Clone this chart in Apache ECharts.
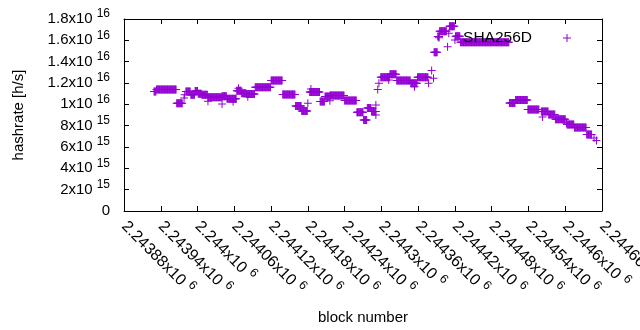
<!DOCTYPE html>
<html>
<head>
<meta charset="utf-8">
<script src="https://cdn.jsdelivr.net/npm/echarts@6/dist/echarts.min.js"></script>
<style>
  body { margin: 0; background: #fff; }
  #chart { width: 640px; height: 330px; }
</style>
</head>
<body>
<div id="chart"></div>
<script>
// runs of blocks sharing one hashrate estimate: [start, end) and value
const segStart = [2243929, 2243933, 2243966, 2243981, 2243989, 2243996, 2244001, 2244007, 2244017, 2244040,
                  2244048, 2244064, 2244072, 2244080, 2244094, 2244120, 2244139, 2244160, 2244170, 2244183,
                  2244200, 2244208, 2244216, 2244240, 2244260, 2244271, 2244277, 2244284, 2244299, 2244314,
                  2244325, 2244348, 2244359, 2244386, 2244392, 2244395, 2244411, 2244421, 2244429, 2244509,
                  2244519, 2244539, 2244561, 2244573, 2244584, 2244603, 2244615, 2244635]
const segEnd = [2243933, 2243966, 2243976, 2243989, 2243996, 2244001, 2244007, 2244017, 2244040, 2244048,
                2244064, 2244072, 2244080, 2244094, 2244120, 2244139, 2244160, 2244170, 2244180, 2244200,
                2244208, 2244216, 2244240, 2244260, 2244271, 2244277, 2244284, 2244292, 2244314, 2244325,
                2244348, 2244359, 2244377, 2244392, 2244395, 2244407, 2244420, 2244429, 2244509, 2244519,
                2244539, 2244558, 2244573, 2244584, 2244601, 2244615, 2244635, 2244644]
const segValue = [1.12e16, 1.14e16, 1.01e16, 1.12e16, 1.09e16, 1.125e16, 1.10e16, 1.09e16, 1.066e16, 1.075e16,
                  1.053e16, 1.128e16, 1.103e16, 1.097e16, 1.16e16, 1.223e16, 1.092e16, 0.984e16, 0.9375e16, 1.116e16,
                  1.027e16, 1.073e16, 1.083e16, 1.036e16, 0.925e16, 0.853e16, 0.966e16, 0.933e16, 1.253e16, 1.282e16,
                  1.223e16, 1.197e16, 1.253e16, 1.488e16, 1.636e16, 1.685e16, 1.732e16, 1.638e16, 1.582e16, 1.0125e16,
                  1.04e16, 0.952e16, 0.933e16, 0.905e16, 0.86e16, 0.811e16, 0.783e16, 0.717e16]

// single scattered blocks
const oddBlock = [2243978, 2243979, 2244017, 2244040, 2244058, 2244067, 2244082, 2244180, 2244185, 2244216,
                  2244291, 2244291, 2244294, 2244296, 2244312, 2244354, 2244377, 2244382, 2244385, 2244394,
                  2244408, 2244410, 2244420, 2244563, 2244602, 2244647, 2244651]
const oddValue = [1.06e16, 1.09e16, 1.03e16, 1.003e16, 1.025e16, 1.15e16, 1.07e16, 1.01e16, 1.144e16, 1.034e16,
                  0.994e16, 0.9e16, 1.14e16, 1.197e16, 1.228e16, 1.165e16, 1.197e16, 1.317e16, 1.244e16, 1.625e16,
                  1.54e16, 1.666e16, 1.603e16, 0.881e16, 0.822e16, 0.684e16, 0.661e16]

const xMin = 2243880, xMax = 2244660, xStep = 60
const xTickText = ['2.24388', '2.24394', '2.244', '2.24406', '2.24412', '2.24418', '2.24424',
                   '2.2443', '2.24436', '2.24442', '2.24448', '2.24454', '2.2446', '2.24466']
const yMax = 1.8e16, yStep = 2e15
const yTickText = [['0', ''], ['2x10', '15'], ['4x10', '15'], ['6x10', '15'], ['8x10', '15'],
                   ['1x10', '16'], ['1.2x10', '16'], ['1.4x10', '16'], ['1.6x10', '16'], ['1.8x10', '16']]

let points = []
segStart.forEach((s, i) => {
    for (let b = s; b < segEnd[i]; b++) points.push([b, segValue[i]])
})
oddBlock.forEach((b, i) => points.push([b, oddValue[i]]))

const purple = '#9400d3'
const font = 'Liberation Sans'
const cross = 'path://M3.5,0 h1 v3.5 h3.5 v1 h-3.5 v3.5 h-1 v-3.5 h-3.5 v-1 h3.5 z'
const rich = {
    b: { fontFamily: font, fontSize: 15, color: '#000' },
    s: { fontFamily: font, fontSize: 12, color: '#000', padding: [0, 0, 10, 4] }
}
const richX = {
    b: { fontFamily: font, fontSize: 16, color: '#000' },
    s: { fontFamily: font, fontSize: 12.5, color: '#000', padding: [0, 0, 10, 5] }
}

const chart = echarts.init(document.getElementById('chart'))

const mirror = {
    axisLine: { show: true, onZero: false, lineStyle: { color: '#000', width: 1 } },
    axisTick: { show: true, inside: true, length: 5, lineStyle: { color: '#000' } },
    axisLabel: { show: false },
    splitLine: { show: false }
}

chart.setOption({
    animation: false,
    grid: { left: 124, right: 38, top: 19, bottom: 119, containLabel: false, outerBoundsMode: 'none' },
    legend: {
        data: ['SHA256D'],
        right: 64,
        top: 25,
        align: 'right',
        itemWidth: 60,
        itemHeight: 8,
        textStyle: { fontFamily: font, fontSize: 15.5, color: '#000' }
    },
    xAxis: [
        {
            type: 'value', min: xMin, max: xMax, interval: xStep,
            name: 'block number', nameLocation: 'middle', nameGap: 99,
            nameTextStyle: { fontFamily: font, fontSize: 15, color: '#000' },
            axisLine: mirror.axisLine, axisTick: mirror.axisTick, splitLine: { show: false },
            axisLabel: {
                rotate: -45, margin: 13,
                formatter: v => '{b|' + xTickText[Math.round((v - xMin) / xStep)] + 'x10}{s|6}',
                rich: richX
            }
        },
        Object.assign({ type: 'value', position: 'top', min: xMin, max: xMax, interval: xStep }, mirror)
    ],
    yAxis: [
        {
            type: 'value', min: 0, max: yMax, interval: yStep,
            name: 'hashrate [h/s]', nameLocation: 'middle', nameGap: 98, nameRotate: 90,
            nameTextStyle: { fontFamily: font, fontSize: 15, color: '#000' },
            axisLine: mirror.axisLine, axisTick: mirror.axisTick, splitLine: { show: false },
            axisLabel: {
                margin: 14,
                formatter: v => {
                    const t = yTickText[Math.round(v / yStep)]
                    return t[1] ? '{b|' + t[0] + '}{s|' + t[1] + '}' : '{b|' + t[0] + '}'
                },
                rich
            }
        },
        Object.assign({ type: 'value', position: 'right', min: 0, max: yMax, interval: yStep }, mirror)
    ],
    series: [
        {
            name: 'SHA256D',
            type: 'scatter',
            symbol: cross,
            symbolSize: 8,
            itemStyle: { color: purple, opacity: 1 },
            data: points
        }
    ]
})
</script>
</body>
</html>
